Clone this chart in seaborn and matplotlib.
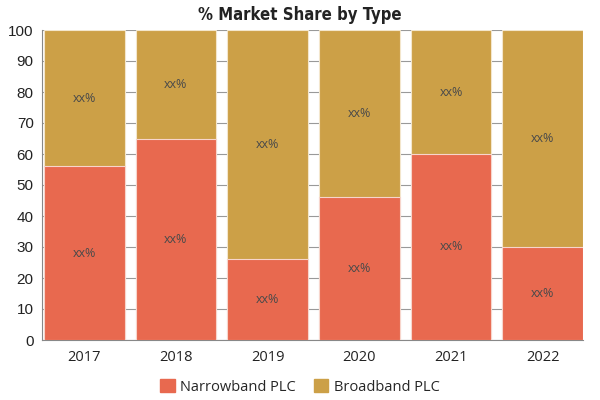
import pandas as pd
import seaborn as sns
import matplotlib.pyplot as plt

years = ["2017", "2018", "2019", "2020", "2021", "2022"]
narrowband = [56, 65, 26, 46, 60, 30]
broadband = [44, 35, 74, 54, 40, 70]
series_names = ["Narrowband PLC", "Broadband PLC"]
bar_labels = ["xx%"] * len(years)

c_narrow = "#E8694F"
c_broad = "#CCA047"

sns.set_style("white")
plt.rcParams["font.family"] = ["Open Sans", "DejaVu Sans"]

df = pd.DataFrame({"year": years, "narrow": narrowband, "broad": broadband})
df["total"] = df["narrow"] + df["broad"]

fig = plt.figure(figsize=(6, 4), dpi=100)
ax = fig.add_axes([0.07, 0.15, 0.902, 0.775])

sns.barplot(data=df, x="year", y="total", color=c_broad, width=0.88,
            edgecolor="#f3e6cc", linewidth=0.8, saturation=1, ax=ax, zorder=2)
sns.barplot(data=df, x="year", y="narrow", color=c_narrow, width=0.88,
            edgecolor="#f7d5cc", linewidth=0.8, saturation=1, ax=ax, zorder=3)

# segment labels
for i, (n, b) in enumerate(zip(df["narrow"], df["broad"])):
    ax.text(i, n / 2, bar_labels[i], ha="center", va="center",
            fontsize=9, color="#4a4a4a", zorder=4)
    ax.text(i, n + b / 2, bar_labels[i], ha="center", va="center",
            fontsize=9, color="#4a4a4a", zorder=4)

ax.set_ylim(0, 100)
ax.set_xlim(-0.46, len(years) - 0.56)
ax.set_yticks(range(0, 101, 10))
ax.yaxis.grid(True, color="#999999", linewidth=0.8, zorder=0)
ax.set_axisbelow(True)
ax.set_xlabel("")
ax.set_ylabel("")
ax.tick_params(axis="both", colors="#222222", length=4, color="#888888")
ax.tick_params(axis="x", labelsize=10.5)
ax.tick_params(axis="y", pad=2)
for lab in ax.get_yticklabels():
    lab.set_family(["Liberation Sans", "DejaVu Sans"])
    lab.set_fontsize(11)
for s in ["top", "right"]:
    ax.spines[s].set_visible(False)
for s in ["left", "bottom"]:
    ax.spines[s].set_color("#888888")

fig.suptitle("% Market Share by Type", y=0.985, fontsize=12, fontweight="heavy",
             fontstretch="condensed", family=["DejaVu Sans"], color="#222222", x=0.5)

handles = [plt.Rectangle((0, 0), 1, 1, color=c) for c in [c_narrow, c_broad]]
fig.legend(handles, series_names, loc="lower center", ncol=2, frameon=False,
           fontsize=10.5, bbox_to_anchor=(0.5, -0.02), handlelength=1.0,
           handleheight=1.0, columnspacing=1.2, handletextpad=0.4)

fig.savefig("out.png", dpi=100)
